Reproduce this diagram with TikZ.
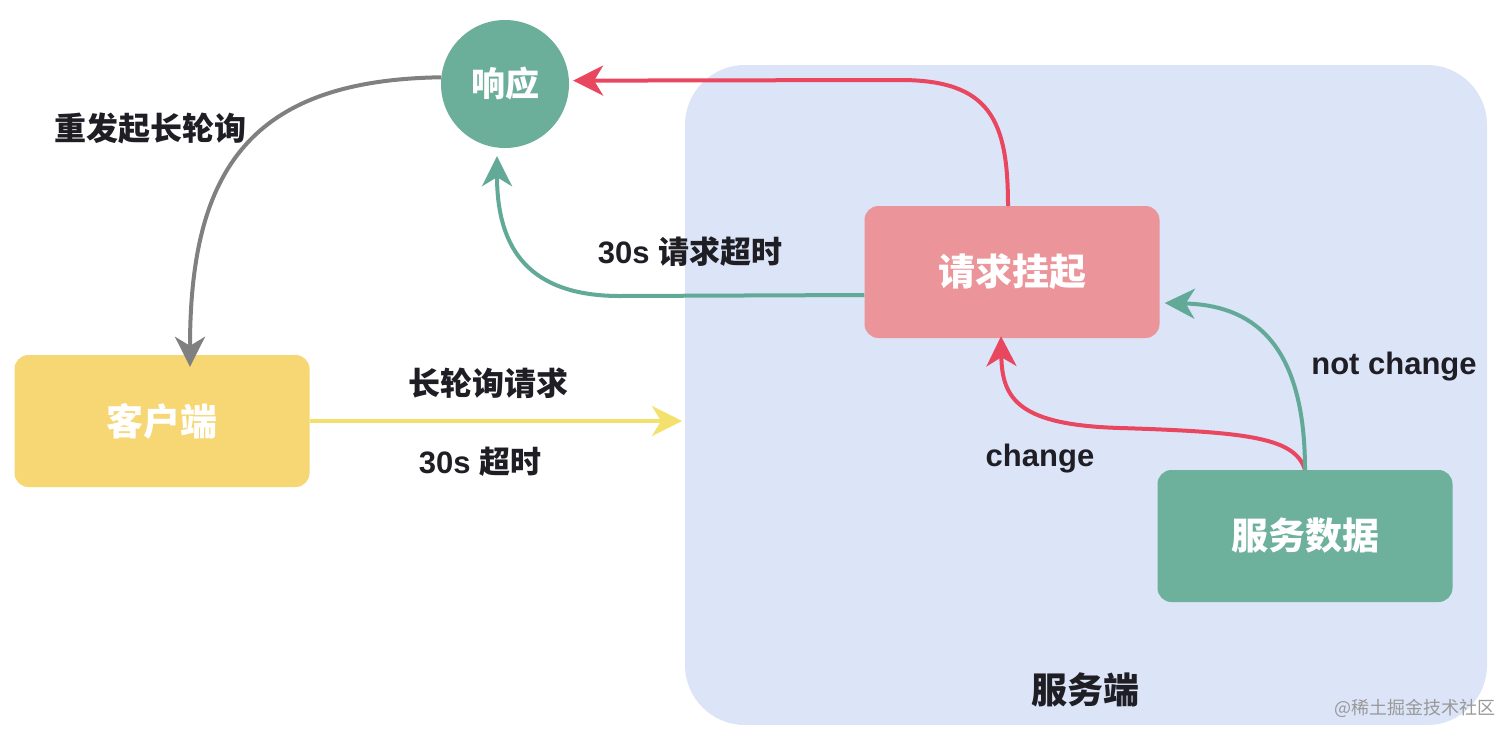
\documentclass[tikz,border=0pt]{standalone}
\usepackage{fontspec}
\setmainfont{Liberation Sans}
\newfontfamily\cjk{Noto Sans CJK SC}
\usetikzlibrary{arrows.meta}
\definecolor{srvbg}{HTML}{DCE4F8}
\definecolor{respc}{HTML}{6BAE9A}
\definecolor{hangc}{HTML}{EB9499}
\definecolor{clientc}{HTML}{F7D674}
\definecolor{datac}{HTML}{6DB09C}
\definecolor{redarr}{HTML}{E8475F}
\definecolor{tealarr}{HTML}{62AA97}
\definecolor{grayarr}{HTML}{808080}
\definecolor{yelarr}{HTML}{F4E06C}
\definecolor{txt}{HTML}{1E1E24}
\begin{document}
\begin{tikzpicture}[x=1pt,y=-1pt,
  box/.style={rectangle,rounded corners=14pt,minimum width=295pt,minimum height=132pt,inner sep=0pt,text=white,font=\cjk\bfseries\fontsize{37}{40}\selectfont},
  lbl/.style={text=txt,inner sep=0pt,font=\bfseries\fontsize{31}{34}\selectfont},
  cl/.style={text=txt,inner sep=0pt,font=\cjk\bfseries\fontsize{32}{35}\selectfont},
  conn/.style={line width=4pt,-{Stealth[length=30pt,width=30pt,inset=9pt]}}]
\useasboundingbox (0,0) rectangle (1512,740);
\fill[white] (0,0) rectangle (1512,740);
\node[fill=srvbg,rounded corners=60pt,minimum width=802pt,minimum height=660pt,inner sep=0pt] (server) at (1086,395) {};
\node[circle,fill=respc,minimum size=128pt,inner sep=0pt,text=white,font=\cjk\bfseries\fontsize{34}{36}\selectfont] (resp) at (505,84) {响应};
\node[box,fill=hangc] (hang) at (1012,272) {请求挂起};
\node[box,fill=clientc] (client) at (162,421) {客户端};
\node[box,fill=datac] (data) at (1305,536) {服务数据};
\coordinate (yend) at (682,421);
% red: hang -> resp
\draw[conn,redarr] ([xshift=-4pt]hang.north) .. controls (1008,120) and (990,80) .. (900,80) -- ([xshift=4pt]resp.3);
% teal: hang -> resp (timeout)
\draw[conn,tealarr] ([yshift=-23pt]hang.west) -- (620,296) .. controls (530,296) and (497,250) .. ([xshift=-8pt,yshift=-8pt]resp.south);
% gray: resp -> client
\draw[conn,grayarr] (resp.174) .. controls (250,80) and (190,170) .. ([xshift=28pt,yshift=-12pt]client.north);
% yellow: client -> server
\draw[conn,yelarr] (client.east) -- (yend);
% red change: data -> hang
\draw[conn,redarr] (data.north) .. controls (1295,438) and (1250,432) .. (1120,428) .. controls (1020,425) and (1002,400) .. ([xshift=-11pt,yshift=2pt]hang.south);
% teal not change: data -> hang
\draw[conn,tealarr] (data.north) .. controls (1305,340) and (1250,305) .. ([xshift=5pt,yshift=-31pt]hang.east);
% labels
\node[cl] (l1) at (150,128) {重发起长轮询};
\node[lbl] (l2) at (690,252) {30s {\cjk 请求超时}};
\node[cl] (l3) at (488,383) {长轮询请求};
\node[lbl] (l4) at (480,462) {30s {\cjk 超时}};
\node[lbl] (l5) at (1394,367) {not change};
\node[lbl] (l6) at (1040,459) {change};
\node[text=txt,inner sep=0pt,font=\cjk\bfseries\fontsize{36}{38}\selectfont] (srvlbl) at (1085,690) {服务端};
\node[text=black!40,inner sep=0pt,font=\cjk\fontsize{18}{20}\selectfont] (wm) at (1415,708) {@稀土掘金技术社区};
\end{tikzpicture}
\end{document}
